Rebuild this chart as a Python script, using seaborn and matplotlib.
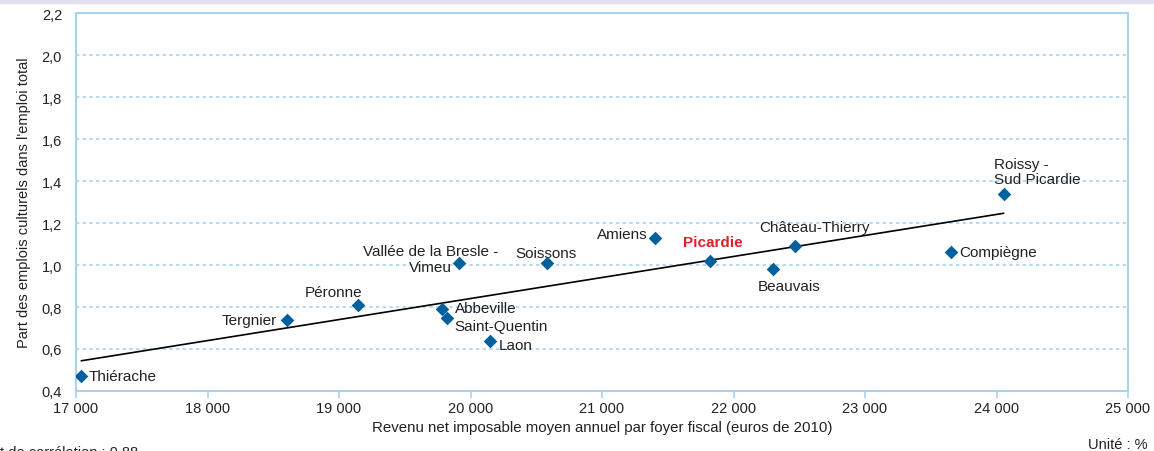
import matplotlib.pyplot as plt
import matplotlib.ticker as mticker
import pandas as pd
import seaborn as sns

# Data
zones = ["Thiérache", "Tergnier", "Péronne", "Vallée de la Bresle -\nVimeu", "Abbeville",
         "Saint-Quentin", "Laon", "Soissons", "Amiens", "Picardie", "Beauvais",
         "Château-Thierry", "Compiègne", "Roissy -\nSud Picardie"]
revenu = [17040, 18605, 19145, 19915, 19785, 19820, 20150, 20580, 21405, 21820, 22300,
          22470, 23655, 24055]
part_emploi = [0.47, 0.74, 0.81, 1.01, 0.79, 0.75, 0.64, 1.01, 1.13, 1.02, 0.98,
               1.09, 1.06, 1.34]

# label placement: (dx px, dy px, ha)
label_pos = {
    "Thiérache": (7, 0, "left"),
    "Tergnier": (-10, 0, "right"),
    "Péronne": (-25, 13, "center"),
    "Vallée de la Bresle -\nVimeu": (-29, 4, "center"),
    "Abbeville": (13, 1, "left"),
    "Saint-Quentin": (8, -9, "left"),
    "Laon": (9, -4, "left"),
    "Soissons": (-1, 10, "center"),
    "Amiens": (-8, 4, "right"),
    "Picardie": (3, 19, "center"),
    "Beauvais": (16, -17, "center"),
    "Château-Thierry": (19, 19, "center"),
    "Compiègne": (8, 0, "left"),
    "Roissy -\nSud Picardie": (-10, 22, "left"),
}

df = pd.DataFrame({"zone": zones, "revenu": revenu, "part": part_emploi})

sns.set_style("white")
plt.rcParams["font.family"] = ["Liberation Sans", "DejaVu Sans"]

BLUE_LINE = "#a7d3ef"
MARKER = "#00609c"
TXT = "#222222"

fig = plt.figure(figsize=(11.54, 4.52), dpi=100)
ax = fig.add_axes([76 / 1154, 1 - 392 / 452, (1128 - 76) / 1154, (392 - 14) / 452])

# top band
fig.patches.append(plt.Rectangle((0, 1 - 4 / 452), 1, 4 / 452, transform=fig.transFigure,
                                 color="#e3dfee", zorder=0))

sns.regplot(data=df, x="revenu", y="part", scatter=False, ci=None, truncate=True,
            line_kws={"color": "black", "lw": 1.2}, ax=ax)
sns.scatterplot(data=df, x="revenu", y="part", marker="D", s=48, color=MARKER,
                edgecolor=MARKER, linewidth=0, zorder=5, ax=ax)

for z, x, y in zip(zones, revenu, part_emploi):
    dx, dy, ha = label_pos[z]
    if z == "Picardie":
        kw = dict(color="#e2202a", fontweight="bold")
    else:
        kw = dict(color=TXT)
    ax.annotate(z, (x, y), xytext=(dx, dy), textcoords="offset pixels", ha=ha,
                va="center", fontsize=11, multialignment=ha, linespacing=1.15, **kw)

ax.set_xlim(17000, 25000)
ax.set_ylim(0.4, 2.2)
ax.xaxis.set_major_locator(mticker.MultipleLocator(1000))
ax.yaxis.set_major_locator(mticker.MultipleLocator(0.2))
ax.xaxis.set_major_formatter(mticker.FuncFormatter(lambda v, p: f"{int(v):,}".replace(",", " ")))
ax.yaxis.set_major_formatter(mticker.FuncFormatter(lambda v, p: f"{v:.1f}".replace(".", ",")))

ax.grid(axis="y", color=BLUE_LINE, linestyle=(0, (2, 2)), lw=1.2)
ax.grid(axis="x", visible=False)
for s in ax.spines.values():
    s.set_color(BLUE_LINE)
    s.set_linewidth(1.5)
ax.tick_params(axis="x", length=5, color=BLUE_LINE, width=1.2, labelsize=10.5,
               labelcolor=TXT, pad=2, bottom=True)
ax.tick_params(axis="y", length=0, labelsize=10.5, labelcolor=TXT, pad=10)

ax.set_xlabel("Revenu net imposable moyen annuel par foyer fiscal (euros de 2010)",
              fontsize=10.8, color=TXT, labelpad=4)
ax.set_ylabel("Part des emplois culturels dans l'emploi total", fontsize=10.5, color=TXT,
              labelpad=8)

fig.text(1148 / 1154, 1 - 445 / 452, "Unité : %", ha="right", va="center", fontsize=10.5,
         color=TXT)
fig.text(0, 1 - 446 / 452, "t de corrélation : 0,88", ha="left", va="top", fontsize=10.5,
         color=TXT)

fig.savefig("out.png", dpi=100)
